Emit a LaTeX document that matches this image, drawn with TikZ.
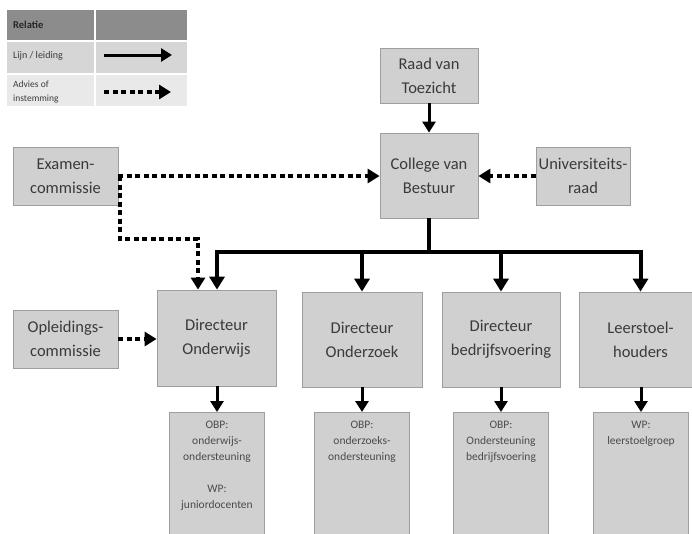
\documentclass[tikz,border=0pt]{standalone}
\usepackage{fontspec}
\setmainfont{Carlito}
\usetikzlibrary{arrows.meta}
\definecolor{boxfill}{RGB}{208,208,208}
\definecolor{boxline}{RGB}{158,158,158}
\definecolor{txt}{RGB}{58,58,58}
\definecolor{lowtxtc}{RGB}{75,75,75}
\definecolor{hdr}{RGB}{140,140,140}
\definecolor{rowa}{RGB}{214,214,214}
\definecolor{rowb}{RGB}{233,233,233}
\begin{document}
\begin{tikzpicture}[x=1pt,y=-1pt,
  box/.style={draw=boxline, fill=boxfill, line width=0.8pt, inner sep=0pt, align=center, text=txt, font=\fontsize{16.5}{24}\selectfont},
  lowbox/.style={draw=boxline, fill=boxfill, line width=0.8pt, inner sep=0pt, minimum width=95pt, minimum height=140pt, anchor=north},
  lowtxt/.style={anchor=north, inner sep=0pt, align=center, text=lowtxtc, font=\fontsize{11.5}{16}\selectfont},
  legtxt/.style={anchor=west, inner sep=0pt, align=left, text=txt, font=\fontsize{10}{14}\selectfont},
  solidarr/.style={line width=3pt, -{Triangle[length=11pt,width=13pt]}},
  busarr/.style={line width=4pt, -{Triangle[length=13pt,width=15pt]}},
  dotarr/.style={line width=4pt, dash pattern=on 5pt off 3.5pt, -{Triangle[length=12pt,width=14pt]}},
]
\clip (0,0) rectangle (692,533);
\fill[white] (0,0) rectangle (692,533);

% legend
\fill[hdr] (7,10) rectangle (94,40);
\fill[hdr] (96,10) rectangle (187,40);
\fill[rowa] (7,42) rectangle (94,73);
\fill[rowa] (96,42) rectangle (187,73);
\fill[rowb] (7,75) rectangle (94,106);
\fill[rowb] (96,75) rectangle (187,106);
\node[legtxt, font=\bfseries\fontsize{10.5}{14}\selectfont, text=black!85] (lrel) at (13,25) {Relatie};
\node[legtxt] (llijn) at (13,56) {Lijn / leiding};
\node[legtxt, font=\fontsize{9.5}{14}\selectfont] (ladv) at (13,92) {Advies of\\instemming};
\coordinate (la1) at (104,55);
\coordinate (la2) at (172,55);
\coordinate (lb1) at (104,92);
\coordinate (lb2) at (171,92);
\draw[solidarr] (la1) -- (la2);
\draw[dotarr] (lb1) -- (lb2);

% main boxes
\node[box, minimum width=98pt, minimum height=55pt] (raad) at (429,75.5) {Raad van\\Toezicht};
\node[box, minimum width=98pt, minimum height=85pt] (college) at (429,175.5) {College van\\Bestuur};
\node[box, minimum width=94pt, minimum height=58pt] (uni) at (583,176) {Universiteits-\\raad};
\node[box, minimum width=105pt, minimum height=58pt] (exam) at (65.5,176) {Examen-\\commissie};
\node[box, minimum width=105pt, minimum height=58pt] (opl) at (65.5,339) {Opleidings-\\commissie};
\node[box, minimum width=119pt, minimum height=96pt] (donw) at (216.5,338) {Directeur\\Onderwijs};
\node[box, minimum width=120pt, minimum height=95pt] (donz) at (362,339.5) {Directeur\\Onderzoek};
\node[box, minimum width=118pt, minimum height=95pt] (dbed) at (501,339.5) {Directeur\\bedrijfsvoering};
\node[box, minimum width=123pt, minimum height=95pt] (leer) at (640.5,339.5) {Leerstoel-\\houders};

% lower boxes
\node[lowbox] (l1) at (217,412) {};
\node[lowbox] (l2) at (362,412) {};
\node[lowbox] (l3) at (501,412) {};
\node[lowbox] (l4) at (641,412) {};
\node[lowtxt] (t1) at ([yshift=-9pt]l1.north) {OBP:\\onderwijs-\\ondersteuning\\[16pt]WP:\\juniordocenten};
\node[lowtxt] (t2) at ([yshift=-9pt]l2.north) {OBP:\\onderzoeks-\\ondersteuning};
\node[lowtxt] (t3) at ([yshift=-9pt]l3.north) {OBP:\\Ondersteuning\\bedrijfsvoering};
\node[lowtxt] (t4) at ([yshift=-9pt]l4.north) {WP:\\leerstoelgroep};

% connectors
\draw[solidarr] (raad) -- (college);
\draw[dotarr] (uni.west) -- (uni.west -| college.east);
\draw[dotarr] (exam.east) -- (exam.east -| college.west);
\coordinate (eb) at (198,239);
\draw[dotarr] ([xshift=2pt]exam.east) |- (eb) -- (eb |- donw.north);
\draw[dotarr] (opl.east) -- (opl.east -| donw.west);

\coordinate (bc) at (429,252);
\coordinate (b1) at (217,252);
\coordinate (b2) at (362,252);
\coordinate (b3) at (501,252);
\coordinate (b4) at (640.5,252);
\draw[line width=4pt] (college.south) -- (bc);
\draw[busarr] (bc) -| (b1 |- donw.north);
\draw[busarr] (bc) -| (b4 |- leer.north);
\draw[busarr] (b2) -- (b2 |- donz.north);
\draw[busarr] (b3) -- (b3 |- dbed.north);

\draw[solidarr] (l1.north |- donw.south) -- (l1.north);
\draw[solidarr] (l2.north |- donz.south) -- (l2.north);
\draw[solidarr] (l3.north |- dbed.south) -- (l3.north);
\draw[solidarr] (l4.north |- leer.south) -- (l4.north);
\end{tikzpicture}
\end{document}
